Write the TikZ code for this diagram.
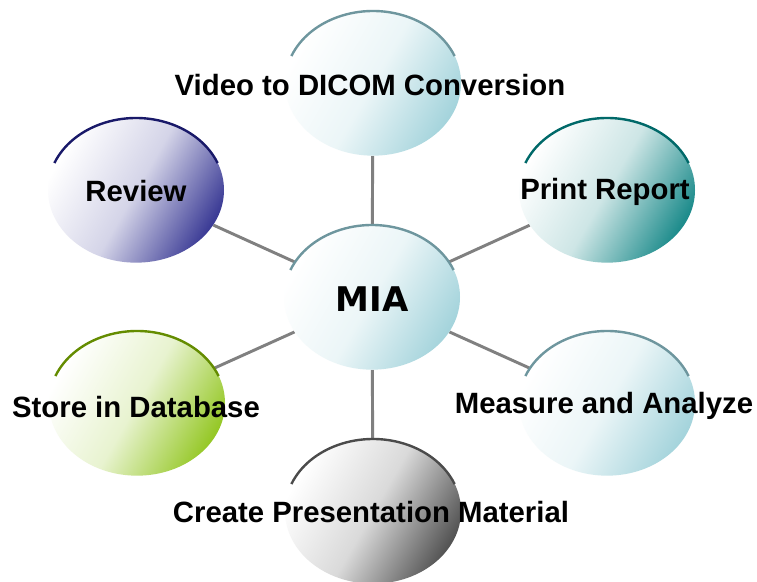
\documentclass[tikz,border=0pt]{standalone}
\usepackage{fontspec}
\setmainfont{Liberation Sans}
\newfontfamily\miafont{DejaVu Sans}
\usetikzlibrary{shapes.geometric,backgrounds}

\definecolor{mistfill}{RGB}{165,212,220}
\definecolor{mistrim}{RGB}{110,150,158}
\definecolor{navyfill}{RGB}{60,60,150}
\definecolor{navyrim}{RGB}{25,25,105}
\definecolor{tealfill}{RGB}{30,140,140}
\definecolor{tealrim}{RGB}{0,105,105}
\definecolor{limefill}{RGB}{150,200,40}
\definecolor{limerim}{RGB}{100,140,0}
\definecolor{ashfill}{RGB}{85,85,85}
\definecolor{ashrim}{RGB}{75,75,75}
\definecolor{spoke}{RGB}{128,128,128}

\tikzset{
  bubble/.style={ellipse, minimum width=132pt, minimum height=109pt,
    inner sep=0pt, top color=white, bottom color=#1, middle color=#1!22,
    shading angle=60},
  rim/.style={draw=#1, line width=1.8pt},
  caption/.style={font=\bfseries\fontsize{22}{26}\selectfont},
  spokeline/.style={draw=spoke, line width=2.2pt}
}

\begin{document}
\begin{tikzpicture}[x=0.75pt, y=0.75pt]
  \useasboundingbox (0,0) rectangle (757,-582);

  % the six bubbles round the hub
  \node[bubble=mistfill] (mia)     at (372,-297) {};
  \node[bubble=mistfill] (video)   at (373,-83)  {};
  \node[bubble=navyfill] (review)  at (136,-190) {};
  \node[bubble=tealfill] (print)   at (607,-190) {};
  \node[bubble=limefill] (store)   at (137,-403) {};
  \node[bubble=mistfill] (measure) at (607,-403) {};
  \node[bubble=ashfill]  (present) at (373,-511) {};

  % rims on top
  \draw[rim=mistrim] (mia.center)     ++(158:88 and 72) arc[start angle=158, end angle=22, x radius=88, y radius=72];
  \draw[rim=mistrim] (video.center)   ++(158:88 and 72) arc[start angle=158, end angle=22, x radius=88, y radius=72];
  \draw[rim=navyrim] (review.center)  ++(158:88 and 72) arc[start angle=158, end angle=22, x radius=88, y radius=72];
  \draw[rim=tealrim] (print.center)   ++(158:88 and 72) arc[start angle=158, end angle=22, x radius=88, y radius=72];
  \draw[rim=limerim] (store.center)   ++(158:88 and 72) arc[start angle=158, end angle=22, x radius=88, y radius=72];
  \draw[rim=mistrim] (measure.center) ++(158:88 and 72) arc[start angle=158, end angle=22, x radius=88, y radius=72];
  \draw[rim=ashrim]  (present.center) ++(158:88 and 72) arc[start angle=158, end angle=22, x radius=88, y radius=72];

  % labels
  \node[font=\miafont\bfseries\fontsize{25.5}{30}\selectfont] (mialabel) at (372,-299) {MIA};
  \node[caption] (videolabel)   at (370,-85)  {Video to DICOM Conversion};
  \node[caption] (reviewlabel)  at (136,-191) {Review};
  \node[caption] (printlabel)   at (605,-192) {Print Report};
  \node[caption] (storelabel)   at (136,-407) {Store in Database};
  \node[caption] (measurelabel) at (604,-406) {Measure and Analyze};
  \node[caption] (presentlabel) at (371,-512) {Create Presentation Material};

  % white page and spokes behind everything
  \begin{pgfonlayer}{background}
    \fill[white] (0,0) rectangle (757,-582);
    \draw[spokeline] (mia) -- (video);
    \draw[spokeline] (mia) -- (review);
    \draw[spokeline] (mia) -- (print);
    \draw[spokeline] (mia) -- (store);
    \draw[spokeline] (mia) -- (measure);
    \draw[spokeline] (mia) -- (present);
  \end{pgfonlayer}
\end{tikzpicture}
\end{document}
